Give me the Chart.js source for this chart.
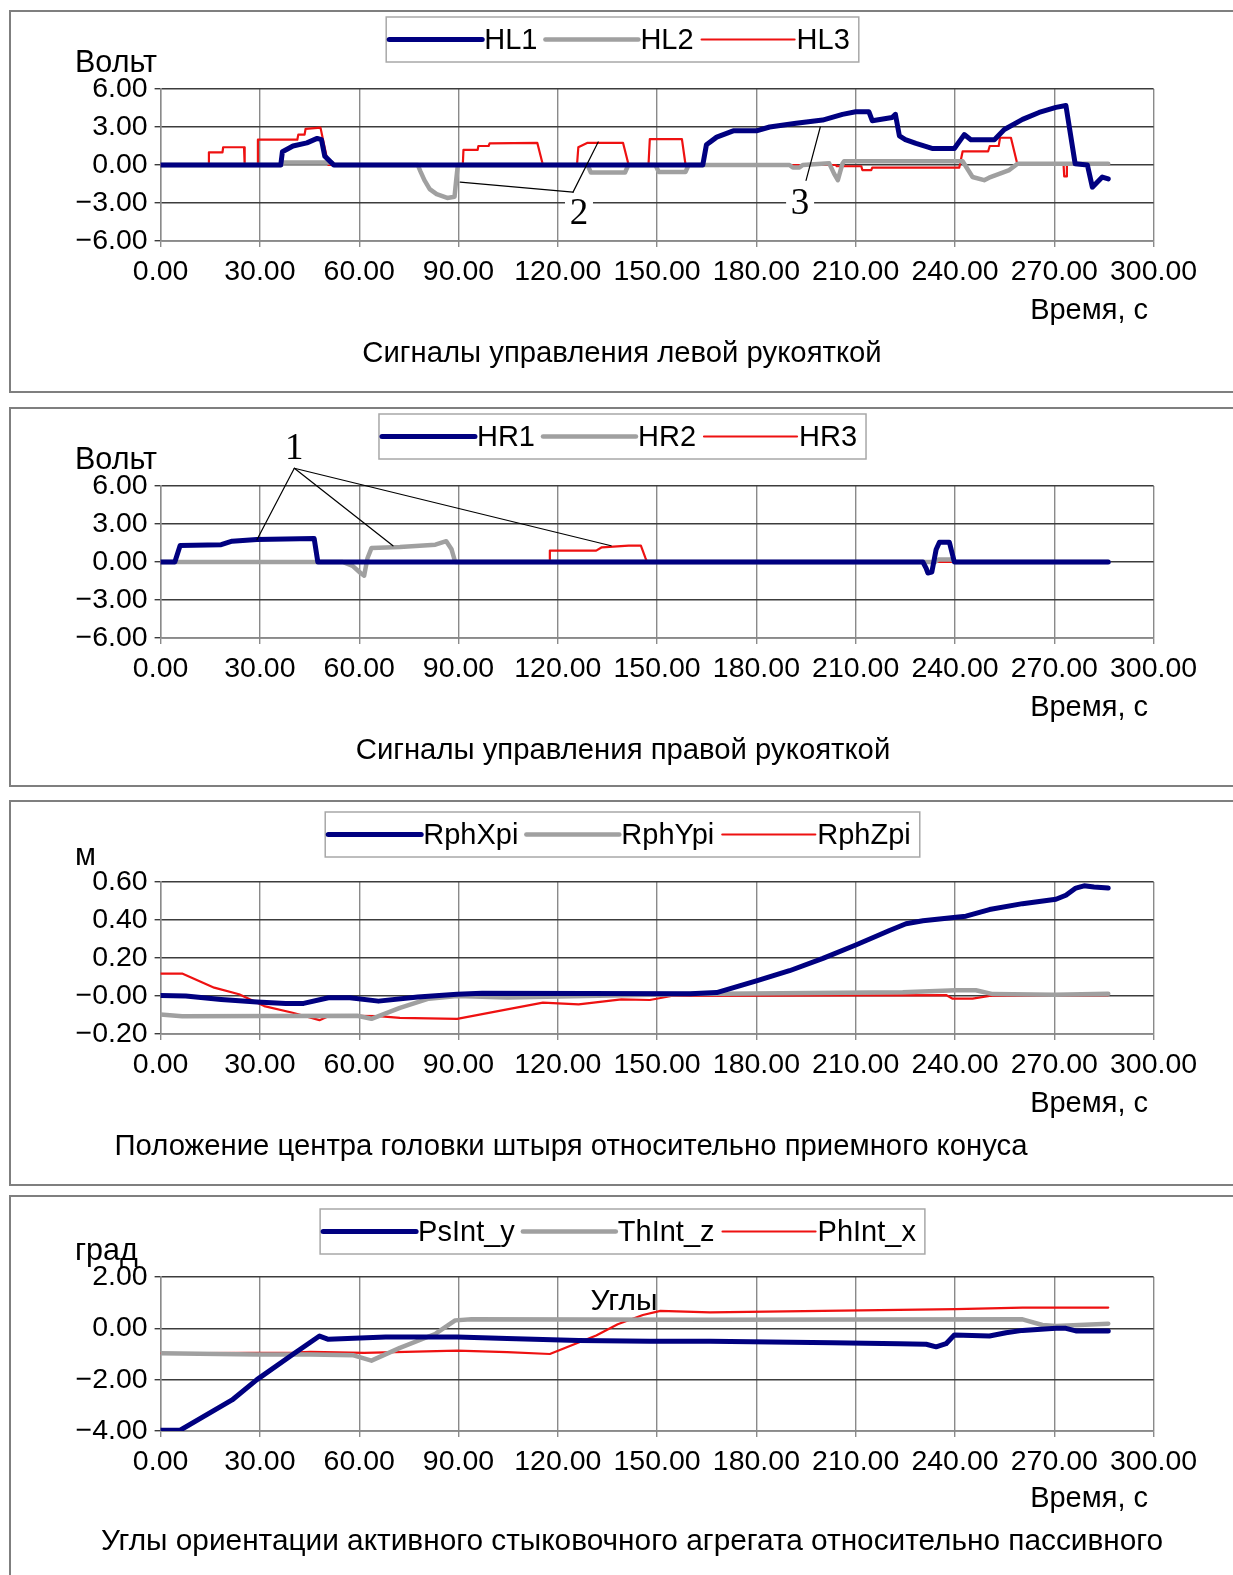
<!DOCTYPE html>
<html>
<head>
<meta charset="utf-8">
<script src="https://cdn.jsdelivr.net/npm/chart.js@4.4.1/dist/chart.umd.min.js"></script>
<style>
    body { margin: 0; background: #fff; width: 1233px; height: 1575px; position: relative; overflow: hidden; }
    .panel { position: absolute; left: 9px; width: 1240px; border: 2px solid #7f7f7f; box-sizing: border-box; background: #fff; }
    .wrap { position: absolute; left: 0; width: 1233px; height: 385px; }
</style>
</head>
<body>
<div class="panel" style="top:10px;height:383px"></div>
<div class="panel" style="top:407px;height:380px"></div>
<div class="panel" style="top:800px;height:386px"></div>
<div class="panel" style="top:1195px;height:400px"></div>

<div class="wrap" style="top:9px"><canvas id="chart1"></canvas></div>
<div class="wrap" style="top:406px"><canvas id="chart2"></canvas></div>
<div class="wrap" style="top:802px"><canvas id="chart3"></canvas></div>
<div class="wrap" style="top:1197px"><canvas id="chart4"></canvas></div>

<script>
// tick values and labels
const xTicks = [0, 30, 60, 90, 120, 150, 180, 210, 240, 270, 300];
const xTickLabels = ["0.00", "30.00", "60.00", "90.00", "120.00", "150.00", "180.00", "210.00", "240.00", "270.00", "300.00"];
const voltTicks = [-6, -3, 0, 3, 6];
const voltTickLabels = ["\u22126.00", "\u22123.00", "0.00", "3.00", "6.00"];
const posTicks = [-0.2, 0, 0.2, 0.4, 0.6];
const posTickLabels = ["\u22120.20", "\u22120.00", "0.20", "0.40", "0.60"];
const angTicks = [-4, -2, 0, 2];
const angTickLabels = ["\u22124.00", "\u22122.00", "0.00", "2.00"];

// panel 1: left handle signals (V)
const hl1Time = [0, 36.3, 36.8, 40, 44.2, 47.3, 48.6, 49.6, 52.3, 163.8, 164.9, 168, 173, 180, 184, 192, 200, 206, 210, 214, 215, 221, 222, 223.2, 225, 228.2, 233.3, 239.8, 242.8, 244.8, 251.9, 254.9, 260.4, 265.4, 270.5, 273.5, 276.3, 280, 281.5, 284.5, 286.3];
const hl1Volt = [0, 0, 1.05, 1.5, 1.75, 2.1, 2.0, 0.7, 0, 0, 1.6, 2.2, 2.7, 2.7, 3.0, 3.3, 3.55, 4.0, 4.2, 4.2, 3.5, 3.75, 4.0, 2.3, 2.0, 1.7, 1.3, 1.3, 2.4, 2.0, 2.0, 2.8, 3.6, 4.15, 4.55, 4.7, 0.1, 0, -1.75, -0.95, -1.1];
const hl2Time = [0, 36.5, 37, 51.8, 52.5, 77.7, 78.5, 79.7, 81.3, 83.4, 86.6, 88.8, 89.3, 89.8, 129, 130, 140.3, 141.3, 149.5, 150.5, 158.6, 159.5, 190, 191, 193, 194, 202, 203.5, 204.6, 206, 206.5, 242.3, 245.3, 248.8, 250.3, 256.4, 258.9, 286.3];
const hl2Volt = [0, 0, 0.2, 0.2, 0, 0, -0.5, -1.2, -1.9, -2.3, -2.6, -2.5, -1.2, 0, 0, -0.6, -0.6, 0, 0, -0.55, -0.55, 0, 0, -0.2, -0.2, 0, 0.13, -0.7, -1.2, 0.1, 0.3, 0.3, -0.95, -1.2, -1.0, -0.4, 0.1, 0.1];
const hl3Time = [0, 14.4, 14.6, 18.7, 18.9, 25.2, 25.4, 29.2, 29.4, 41.3, 41.6, 43.5, 43.8, 48.3, 50.7, 91.3, 91.5, 95.8, 96, 99.1, 99.4, 113.8, 115.5, 125.8, 126.2, 129, 139.7, 141.4, 147.4, 147.8, 157.5, 158.6, 204, 204.3, 211.7, 212, 214.7, 215, 241.3, 242.3, 250, 250.5, 253.2, 253.6, 256.9, 258.9, 272.8, 273, 273.6, 273.8, 286.3];
const hl3Volt = [0, 0, 1.0, 1.0, 1.4, 1.4, 0, 0, 2.0, 2.0, 2.4, 2.4, 2.85, 2.95, 0, 0, 1.2, 1.2, 1.5, 1.5, 1.7, 1.75, 0, 0, 1.4, 1.75, 1.75, 0, 0, 2.05, 2.05, 0, 0, -0.1, -0.1, -0.4, -0.4, -0.2, -0.2, 1.07, 1.07, 1.5, 1.5, 2.15, 2.15, 0, 0, -0.9, -0.9, 0, 0];

// panel 2: right handle signals (V)
const hr1Time = [0, 4.3, 5.9, 18.3, 21.6, 29.1, 46.4, 47.5, 230.3, 231.3, 231.8, 233, 234.3, 235.3, 238.3, 239.8, 286.3];
const hr1Volt = [0, 0, 1.3, 1.37, 1.64, 1.77, 1.85, 0, 0, -0.5, -0.87, -0.8, 0.98, 1.56, 1.56, 0, 0];
const hr2Time = [0, 55, 58, 60.4, 61.5, 62.5, 63.7, 72.3, 83, 86.3, 87.9, 89, 234, 235, 239, 240, 286.3];
const hr2Volt = [0, 0, -0.3, -0.87, -1.08, 0.3, 1.1, 1.19, 1.37, 1.64, 1.0, 0, 0, 0.2, 0.2, 0, 0];
const hr3Time = [0, 117.4, 117.6, 131.6, 133.3, 141.4, 145.1, 146.5, 147, 286.3];
const hr3Volt = [0, 0, 0.9, 0.9, 1.16, 1.3, 1.3, 0.3, 0, 0];

// panel 3: probe head position (m)
const rxTime = [0, 7.6, 18.3, 29.1, 37.8, 43.2, 50.7, 57.2, 65.8, 77.7, 89.6, 97.1, 160, 168, 180, 190, 200.1, 210.2, 220.2, 225.2, 230.3, 240.3, 243.3, 250.4, 260.4, 270.5, 273.5, 276.5, 279, 282, 286.3];
const rxPos = [0.003, 0.0, -0.018, -0.032, -0.04, -0.039, -0.009, -0.009, -0.027, -0.005, 0.009, 0.014, 0.012, 0.018, 0.08, 0.133, 0.198, 0.27, 0.345, 0.38, 0.396, 0.415, 0.42, 0.455, 0.486, 0.509, 0.53, 0.568, 0.58, 0.574, 0.568];
const ryTime = [0, 6.5, 59.4, 63.7, 72.3, 81, 89.6, 104.7, 160, 224.2, 240.3, 246.3, 251.4, 270, 286.3];
const ryPos = [-0.097, -0.106, -0.104, -0.12, -0.062, -0.014, 0, -0.008, 0.01, 0.02, 0.03, 0.03, 0.01, 0.007, 0.012];
const rzTime = [0, 6.5, 16.2, 23.7, 31.3, 39.9, 48, 50.7, 59.4, 65.8, 72.3, 89.6, 104.7, 115.5, 126.3, 139.2, 147.8, 154.3, 237.3, 239.3, 245.3, 250.4, 286.3];
const rzPos = [0.118, 0.118, 0.044, 0.009, -0.053, -0.088, -0.127, -0.106, -0.104, -0.106, -0.115, -0.12, -0.07, -0.035, -0.044, -0.018, -0.021, 0, 0.005, -0.014, -0.014, 0, 0.005];

// panel 4: orientation angles (deg)
const psTime = [0, 5.9, 21.6, 29.1, 39.9, 48, 50.7, 68, 89.6, 104.7, 126.3, 147.8, 166, 203, 223.2, 231.3, 234.3, 237.3, 239.8, 250.4, 255.4, 260.4, 270.5, 273.5, 276.5, 286.3];
const psAng = [-3.97, -3.97, -2.79, -2.0, -1.02, -0.3, -0.43, -0.34, -0.34, -0.4, -0.47, -0.5, -0.5, -0.56, -0.6, -0.62, -0.72, -0.6, -0.26, -0.3, -0.17, -0.08, 0, 0, -0.1, -0.1];
const thTime = [0, 29.1, 45.3, 58.3, 63.7, 72.3, 83.1, 89, 93.9, 166, 260.4, 266.4, 270.5, 286.3];
const thAng = [-0.97, -1.02, -1.02, -1.05, -1.26, -0.76, -0.21, 0.31, 0.35, 0.33, 0.35, 0.13, 0.09, 0.18];
const phTime = [0, 40, 45.3, 61.5, 89.6, 104.7, 117.6, 131.6, 138.1, 145.7, 151, 166, 200.1, 240.3, 260.4, 286.3];
const phAng = [-0.97, -0.95, -0.92, -0.96, -0.87, -0.93, -1.0, -0.28, 0.16, 0.52, 0.68, 0.62, 0.68, 0.75, 0.81, 0.81];

const NAVY = "#000080";
const GRAY = "#a0a0a0";
const RED = "#ee1111";
const FONT = "'Liberation Sans', Arial, sans-serif";
const SERIF = "'Liberation Serif', 'Times New Roman', serif";

function toPoints(ts, vs) {
    return ts.map((t, i) => ({ x: t, y: vs[i] }));
}

function series(label, ts, vs, color, width) {
    return {
        label: label,
        data: toPoints(ts, vs),
        borderColor: color,
        backgroundColor: color,
        borderWidth: width,
        pointRadius: 0,
        tension: 0,
        borderJoinStyle: "round",
        borderCapStyle: "round",
    };
}

// legend box, unit label, axis title, chart title and callouts
const decor = {
    id: "decor",
    afterDraw(chart, args, o) {
        const ctx = chart.ctx;
        const xs = chart.scales.x;
        const ys = chart.scales.y;
        ctx.save();

        // legend
        ctx.font = "29px " + FONT;
        const lineLen = 93;
        let total = 6;
        o.legend.forEach((it, i) => {
            total += lineLen + 2 + ctx.measureText(it.text).width + (i < o.legend.length - 1 ? 8 : 6);
        });
        let lx = 622.5 - total / 2;
        const top = o.legendTop, h = 45, cy = top + h / 2;
        ctx.fillStyle = "#fff";
        ctx.fillRect(lx, top, total, h);
        ctx.strokeStyle = "#a8a8a8";
        ctx.lineWidth = 1.5;
        ctx.strokeRect(lx, top, total, h);
        let cx = lx + 3;
        o.legend.forEach((it) => {
            ctx.strokeStyle = it.color;
            ctx.lineWidth = it.width;
            ctx.lineCap = "round";
            ctx.beginPath();
            ctx.moveTo(cx, cy);
            ctx.lineTo(cx + lineLen, cy);
            ctx.stroke();
            cx += lineLen + 2;
            ctx.fillStyle = "#000";
            ctx.textBaseline = "middle";
            ctx.textAlign = "left";
            ctx.fillText(it.text, cx, cy + 1);
            cx += ctx.measureText(it.text).width + 8;
        });

        // unit label
        ctx.textBaseline = "alphabetic";
        ctx.textAlign = "left";
        ctx.font = "30.5px " + FONT;
        ctx.fillText(o.unit, 75, 63);

        // axis title
        ctx.textAlign = "right";
        ctx.font = "29px " + FONT;
        ctx.fillText("Время, с", 1148, 310);

        // chart title
        ctx.textAlign = "center";
        ctx.font = o.titleSize + "px " + FONT;
        ctx.fillText(o.title, o.titleX, 353);

        // inner caption
        if (o.caption) {
            ctx.font = "30px " + FONT;
            ctx.fillText(o.caption.text, xs.getPixelForValue(o.caption.x), ys.getPixelForValue(o.caption.y));
        }

        // numbered callouts
        (o.callouts || []).forEach((c) => {
            ctx.strokeStyle = "#000";
            ctx.lineWidth = 1.2;
            const ax = xs.getPixelForValue(c.anchor[0]);
            const ay = ys.getPixelForValue(c.anchor[1]);
            c.targets.forEach((p) => {
                ctx.beginPath();
                ctx.moveTo(ax, ay);
                ctx.lineTo(xs.getPixelForValue(p[0]), ys.getPixelForValue(p[1]));
                ctx.stroke();
            });
            const tx = xs.getPixelForValue(c.at[0]);
            const ty = ys.getPixelForValue(c.at[1]);
            ctx.fillStyle = "#fff";
            ctx.fillRect(tx - 14, ty - 14, 28, 28);
            ctx.fillStyle = "#000";
            ctx.font = "37px " + SERIF;
            ctx.textAlign = "center";
            ctx.textBaseline = "middle";
            ctx.fillText(c.text, tx, ty + 1);
        });
        ctx.restore();
    },
};

function makeChart(id, datasets, yMin, yMax, yVals, yLabels, plotH, deco) {
    const ctx = document.getElementById(id).getContext("2d");
    return new Chart(ctx, {
        type: "line",
        data: { datasets: datasets },
        options: {
            responsive: true,
            maintainAspectRatio: false,
            animation: false,
            events: [],
            layout: { padding: { left: 60.6, right: 79.4, top: 80, bottom: 385 - 80 - plotH - 60 } },
            plugins: {
                legend: { display: false },
                tooltip: { enabled: false },
                decor: deco,
            },
            scales: {
                x: {
                    type: "linear",
                    min: 0,
                    max: 300,
                    afterBuildTicks: (s) => { s.ticks = xTicks.map((v) => ({ value: v })); },
                    afterFit: (s) => { s.height = 60; },
                    ticks: {
                        autoSkip: false,
                        maxRotation: 0,
                        padding: 8,
                        color: "#000",
                        font: { family: FONT, size: 28.5 },
                        callback: (v) => xTickLabels[xTicks.indexOf(v)],
                    },
                    grid: { color: "#8a8a8a", lineWidth: 1.4, tickLength: 6 },
                    border: { color: "#8a8a8a", width: 1.4 },
                },
                y: {
                    min: yMin,
                    max: yMax,
                    afterBuildTicks: (s) => { s.ticks = yVals.map((v) => ({ value: v })); },
                    afterFit: (s) => { s.width = 100; },
                    ticks: {
                        padding: 7,
                        color: "#000",
                        font: { family: FONT, size: 28.5 },
                        callback: (v) => yLabels[yVals.indexOf(v)],
                    },
                    grid: { color: "#3c3c3c", lineWidth: 1.4, tickLength: 6 },
                    border: { color: "#8a8a8a", width: 1.4 },
                },
            },
        },
        plugins: [decor],
    });
}

makeChart("chart1", [
    series("HL1", hl1Time, hl1Volt, NAVY, 5),
    series("HL2", hl2Time, hl2Volt, GRAY, 4.5),
    series("HL3", hl3Time, hl3Volt, RED, 2.2),
], -6, 6, voltTicks, voltTickLabels, 152, {
    legendTop: 8,
    legend: [
        { text: "HL1", color: NAVY, width: 5 },
        { text: "HL2", color: GRAY, width: 4.5 },
        { text: "HL3", color: RED, width: 2.2 },
    ],
    unit: "Вольт",
    title: "Сигналы управления левой рукояткой",
    titleX: 622,
    titleSize: 29.3,
    callouts: [
        { text: "2", anchor: [124.6, -2.14], targets: [[90.5, -1.35], [132.2, 1.82]], at: [126.4, -3.8] },
        { text: "3", anchor: [195, -1.21], targets: [[199.3, 3.0]], at: [193.2, -3.0] },
    ],
});

makeChart("chart2", [
    series("HR1", hr1Time, hr1Volt, NAVY, 5),
    series("HR2", hr2Time, hr2Volt, GRAY, 4.5),
    series("HR3", hr3Time, hr3Volt, RED, 2.2),
], -6, 6, voltTicks, voltTickLabels, 152, {
    legendTop: 8,
    legend: [
        { text: "HR1", color: NAVY, width: 5 },
        { text: "HR2", color: GRAY, width: 4.5 },
        { text: "HR3", color: RED, width: 2.2 },
    ],
    unit: "Вольт",
    title: "Сигналы управления правой рукояткой",
    titleX: 623,
    titleSize: 29.3,
    callouts: [
        { text: "1", anchor: [40.4, 7.4], targets: [[29.1, 1.76], [70.2, 1.28], [136.1, 1.28]], at: [40.4, 9.0] },
    ],
});

makeChart("chart3", [
    series("RphXpi", rxTime, rxPos, NAVY, 5),
    series("RphYpi", ryTime, ryPos, GRAY, 4.5),
    series("RphZpi", rzTime, rzPos, RED, 2.2),
], -0.2, 0.6, posTicks, posTickLabels, 152, {
    legendTop: 10,
    legend: [
        { text: "RphXpi", color: NAVY, width: 5 },
        { text: "RphYpi", color: GRAY, width: 4.5 },
        { text: "RphZpi", color: RED, width: 2.2 },
    ],
    unit: "м",
    title: "Положение центра головки штыря относительно приемного конуса",
    titleX: 571,
    titleSize: 29.3,
});

makeChart("chart4", [
    series("PsInt_y", psTime, psAng, NAVY, 5),
    series("ThInt_z", thTime, thAng, GRAY, 4.5),
    series("PhInt_x", phTime, phAng, RED, 2.2),
], -4, 2, angTicks, angTickLabels, 154, {
    legendTop: 12,
    legend: [
        { text: "PsInt_y", color: NAVY, width: 5 },
        { text: "ThInt_z", color: GRAY, width: 4.5 },
        { text: "PhInt_x", color: RED, width: 2.2 },
    ],
    unit: "град",
    title: "Углы ориентации активного стыковочного агрегата относительно пассивного",
    titleX: 632,
    titleSize: 29.8,
    caption: { text: "Углы", x: 140, y: 0.7 },
});
</script>
</body>
</html>
